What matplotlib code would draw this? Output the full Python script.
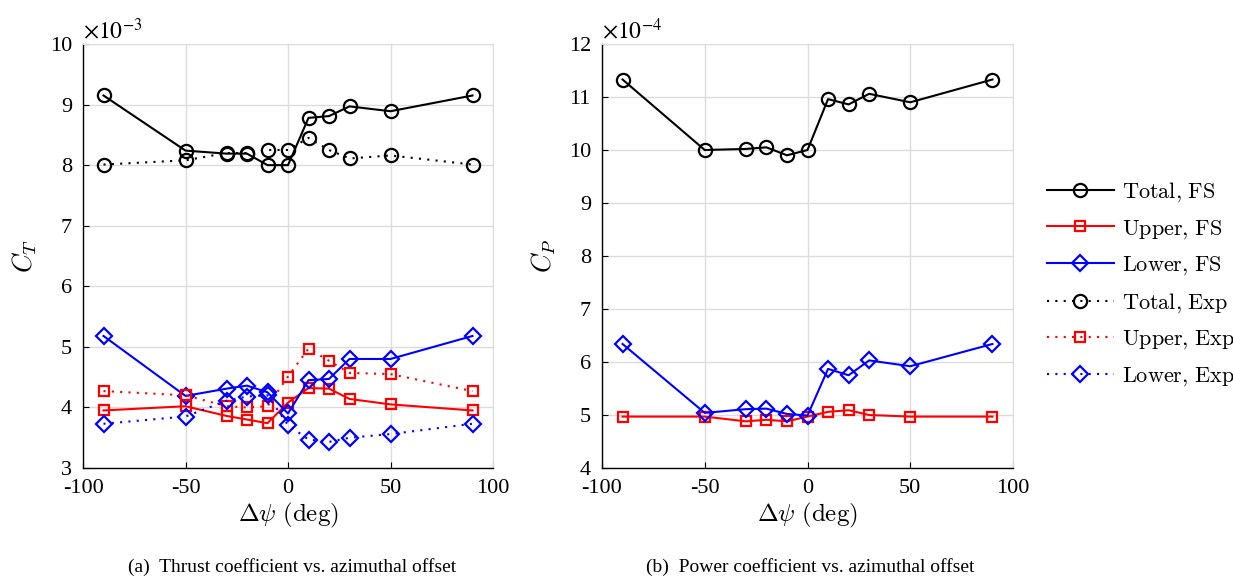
import matplotlib
matplotlib.use("Agg")
import matplotlib.pyplot as plt

dpsi = [-90, -50, -30, -20, -10, 0, 10, 20, 30, 50, 90]

# thrust coefficient, x 1e-3
ct_total_fs = [9.15, 8.24, 8.19, 8.19, 8.00, 8.00, 8.78, 8.81, 8.97, 8.89, 9.15]
ct_upper_fs = [3.95, 4.02, 3.86, 3.80, 3.74, 4.08, 4.32, 4.31, 4.14, 4.05, 3.95]
ct_lower_fs = [5.18, 4.19, 4.31, 4.36, 4.25, 3.90, 4.45, 4.47, 4.80, 4.80, 5.18]
ct_total_exp = [8.01, 8.08, 8.20, 8.20, 8.25, 8.25, 8.45, 8.25, 8.11, 8.16, 8.01]
ct_upper_exp = [4.27, 4.20, 4.02, 4.00, 4.02, 4.51, 4.97, 4.77, 4.57, 4.55, 4.27]
ct_lower_exp = [3.73, 3.85, 4.11, 4.18, 4.20, 3.71, 3.47, 3.43, 3.50, 3.56, 3.73]

# power coefficient, x 1e-4
cp_total_fs = [11.33, 10.00, 10.02, 10.05, 9.90, 10.00, 10.96, 10.86, 11.06, 10.90, 11.33]
cp_upper_fs = [4.97, 4.97, 4.88, 4.91, 4.88, 4.97, 5.06, 5.09, 5.00, 4.97, 4.97]
cp_lower_fs = [6.34, 5.04, 5.11, 5.12, 5.02, 4.99, 5.87, 5.75, 6.03, 5.92, 6.34]

legend_labels = ["Total, FS", "Upper, FS", "Lower, FS", "Total, Exp", "Upper, Exp", "Lower, Exp"]

plt.rcParams['font.family'] = ['Liberation Serif', 'DejaVu Serif']
plt.rcParams['mathtext.fontset'] = 'cm'
plt.rcParams['axes.unicode_minus'] = False

fig = plt.figure(figsize=(12.33, 5.78), dpi=100)
ax1 = fig.add_axes([83/1233, 1-468/578, 410/1233, 424/578])
ax2 = fig.add_axes([602/1233, 1-468/578, 411/1233, 424/578])

dot = (0, (1, 3))
styles = [
    dict(color='k', marker='o', ms=9.5),
    dict(color='#ff0000', marker='s', ms=7.5),
    dict(color='#0000ff', marker='D', ms=8),
]

def draw(ax, series, ls):
    hs = []
    for y, st in zip(series, styles):
        h, = ax.plot(dpsi, y, linestyle=ls, lw=1.5, color=st['color'],
                     marker=st['marker'], ms=st['ms'], mfc='none',
                     mec=st['color'], mew=1.6)
        hs.append(h)
    return hs

h_fs = draw(ax1, [ct_total_fs, ct_upper_fs, ct_lower_fs], '-')
h_exp = draw(ax1, [ct_total_exp, ct_upper_exp, ct_lower_exp], dot)
draw(ax2, [cp_total_fs, cp_upper_fs, cp_lower_fs], '-')

for ax in (ax1, ax2):
    ax.set_xlim(-100, 100)
    ax.set_xticks([-100, -50, 0, 50, 100])
    ax.grid(True, color='#dcdcdc', lw=1)
    ax.set_axisbelow(True)
    ax.tick_params(direction='in', labelsize=16, length=4, width=0.8, pad=8)
    for s in ('top', 'right'):
        ax.spines[s].set_color('#dcdcdc')
    for s in ('left', 'bottom'):
        ax.spines[s].set_linewidth(1.0)
    ax.set_xlabel(r'$\Delta\psi\ \mathrm{(deg)}$', fontsize=18, labelpad=2)

ax1.set_ylim(3, 10)
ax1.set_yticks(range(3, 11))
ax2.set_ylim(4, 12)
ax2.set_yticks(range(4, 13))
ax1.set_ylabel(r'$C_T$', fontsize=19, labelpad=8)
ax2.set_ylabel(r'$C_P$', fontsize=19, labelpad=8)

ax1.text(0.0, 1.0, r'$\times10^{\mathrm{-3}}$', transform=ax1.transAxes,
         fontsize=17, math_fontfamily='stix', ha='left', va='bottom')
ax2.text(0.0, 1.0, r'$\times10^{\mathrm{-4}}$', transform=ax2.transAxes,
         fontsize=17, math_fontfamily='stix', ha='left', va='bottom')

fig.legend(h_fs + h_exp, [r'$\mathrm{' + l.replace(', ', r'{,}\ ') + '}$' for l in legend_labels],
           loc='center left', bbox_to_anchor=(1038/1233, 1-284/578), frameon=False,
           fontsize=16, handlelength=3.0, handletextpad=0.4, labelspacing=0.62,
           borderaxespad=0)

fig.text(292/1233, 1-567/578, '(a)  Thrust coefficient vs. azimuthal offset',
         ha='center', va='center', fontsize=14)
fig.text(810/1233, 1-567/578, '(b)  Power coefficient vs. azimuthal offset',
         ha='center', va='center', fontsize=14)

fig.savefig('out.png', dpi=100)
